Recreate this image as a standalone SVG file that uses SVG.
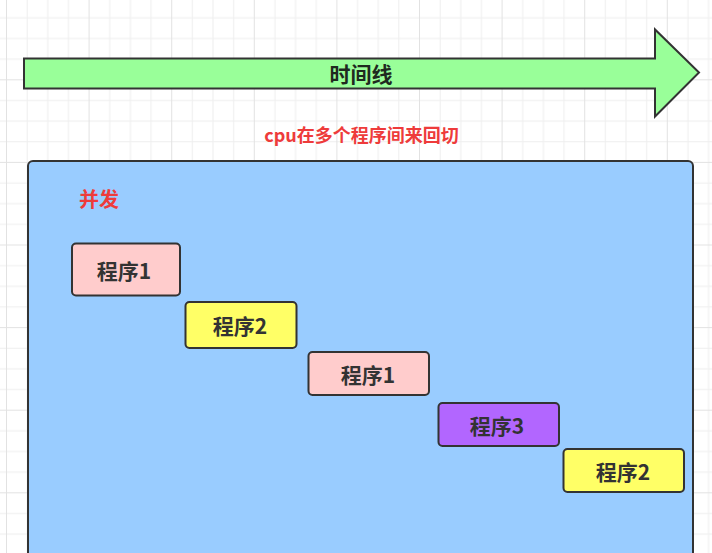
<svg xmlns="http://www.w3.org/2000/svg" width="712" height="553" viewBox="0 0 712 553">
<defs>
<pattern id="grid" patternUnits="userSpaceOnUse" x="6" y="-3.3" width="82.6" height="82.6">
<path d="M0 0.5H82.6 M0 21.15H82.6 M0 41.8H82.6 M0 62.45H82.6" stroke="#eeeeee" stroke-width="1" fill="none"/>
<path d="M0.5 0V82.6 M21.15 0V82.6 M41.8 0V82.6 M62.45 0V82.6" stroke="#eeeeee" stroke-width="1" fill="none"/>
<path d="M0 0.5H82.6 M0.5 0V82.6" stroke="#e2e2e2" stroke-width="1" fill="none"/>
</pattern>
<style>
.box{stroke:#333;stroke-width:2}
.lbl{font-family:"Noto Sans CJK SC","Liberation Sans",sans-serif;font-weight:bold;font-size:21px;fill:#333;text-anchor:middle;dominant-baseline:central}
.red{font-family:"Noto Sans CJK SC","Liberation Sans",sans-serif;font-weight:bold;fill:#ee3b3b}
</style>
</defs>
<rect width="712" height="553" fill="#ffffff"/>
<rect width="712" height="553" fill="url(#grid)"/>
<g id="timeline">
<path d="M24 58.5H655V29.5L699 72.5L655 116.5V88.5H24Z" fill="#99ff99" stroke="#333" stroke-width="2" stroke-linejoin="miter"/>
<text x="361" y="73" class="lbl" style="fill:#1f2a1f;font-size:21px">时间线</text>
</g>
<g id="caption">
<text x="361.5" y="134" class="red" font-size="18" text-anchor="middle" dominant-baseline="central">cpu在多个程序间来回切</text>
</g>
<g id="concurrent">
<rect x="28" y="161" width="665" height="410" rx="5" fill="#99ccff" stroke="#333" stroke-width="2"/>
<text x="79" y="198.5" class="red" font-size="20" dominant-baseline="central">并发</text>
</g>
<g id="p1a">
<rect class="box" x="72" y="243.5" width="108" height="52" rx="4" fill="#ffcccc"/>
<text class="lbl" x="124" y="269.5">程序1</text>
</g>
<g id="p2a">
<rect class="box" x="185.5" y="302" width="111" height="46" rx="4" fill="#ffff66"/>
<text class="lbl" x="240" y="325">程序2</text>
</g>
<g id="p1b">
<rect class="box" x="308.5" y="352" width="120.5" height="43" rx="4" fill="#ffcccc"/>
<text class="lbl" x="368" y="373.5">程序1</text>
</g>
<g id="p3">
<rect class="box" x="438.5" y="403" width="120.5" height="43" rx="4" fill="#b266ff"/>
<text class="lbl" x="497" y="424.5">程序3</text>
</g>
<g id="p2b">
<rect class="box" x="563.5" y="449" width="120.5" height="43" rx="4" fill="#ffff66"/>
<text class="lbl" x="623" y="470.5">程序2</text>
</g>
<g id="connectors"></g>
</svg>
